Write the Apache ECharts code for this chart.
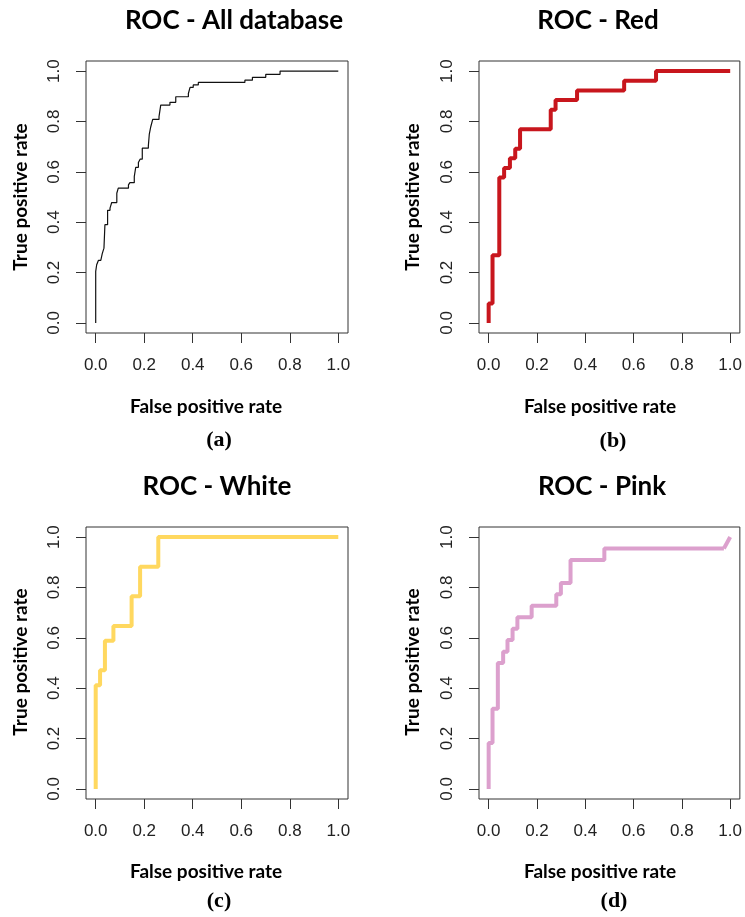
<!DOCTYPE html>
<html>
<head>
<meta charset="utf-8">
<script src="https://cdn.jsdelivr.net/npm/echarts@6/dist/echarts.min.js"></script>
<style>
  html, body { margin: 0; padding: 0; background: #fff; }
  #chart { width: 745px; height: 917px; }
</style>
</head>
<body>
<div id="chart"></div>
<script>
// values
const tickValues = [0, 0.2, 0.4, 0.6, 0.8, 1.0];
const panelTitles = ['ROC - All database', 'ROC - Red', 'ROC - White', 'ROC - Pink'];
const panelLetters = ['(a)', '(b)', '(c)', '(d)'];
const xName = 'False positive rate';
const yName = 'True positive rate';

const allFpr = [0, 0, 0.004, 0.011, 0.021, 0.027, 0.034, 0.038, 0.049, 0.059, 0.066, 0.087, 0.093, 0.135, 0.141, 0.159, 0.165, 0.176, 0.183, 0.192, 0.217, 0.221, 0.227, 0.235, 0.261, 0.268, 0.306, 0.330, 0.382, 0.389, 0.402, 0.423, 0.615, 0.646, 0.701, 0.760, 1.0];
const allTpr = [0, 0.205, 0.231, 0.248, 0.254, 0.275, 0.297, 0.390, 0.447, 0.456, 0.478, 0.515, 0.535, 0.548, 0.557, 0.581, 0.618, 0.637, 0.650, 0.694, 0.703, 0.750, 0.779, 0.808, 0.819, 0.865, 0.876, 0.898, 0.911, 0.935, 0.945, 0.955, 0.964, 0.975, 0.987, 1.0, 1.0];

const redFpr = [0, 0, 0.016, 0.044, 0.064, 0.088, 0.110, 0.130, 0.257, 0.277, 0.366, 0.561, 0.693, 1.0];
const redTpr = [0, 0.077, 0.269, 0.577, 0.615, 0.654, 0.692, 0.769, 0.846, 0.885, 0.923, 0.962, 1.0, 1.0];

const whiteFpr = [0, 0, 0.018, 0.038, 0.073, 0.148, 0.183, 0.258, 1.0];
const whiteTpr = [0, 0.412, 0.471, 0.588, 0.647, 0.765, 0.882, 1.0, 1.0];

const pinkFpr = [0, 0, 0.016, 0.038, 0.060, 0.078, 0.099, 0.119, 0.178, 0.280, 0.299, 0.339, 0.479, 0.974, 1.0];
const pinkTpr = [0, 0.182, 0.318, 0.5, 0.545, 0.591, 0.636, 0.682, 0.727, 0.773, 0.818, 0.909, 0.955, 0.955, 1.0];

// layout
const grids = [
  { left: 86, top: 61, width: 262, height: 272 },
  { left: 479, top: 61, width: 263, height: 272 },
  { left: 86, top: 527, width: 262, height: 272 },
  { left: 479, top: 527, width: 263, height: 272 }
];
const titlePos = [[234, 21], [598, 21], [217, 487], [602, 487]];
const xNamePos = [[206, 407], [600, 407], [206, 872], [600, 872]];
const yNamePos = [[21, 197], [413, 197], [21, 662], [413, 662]];
const letterPos = [[219, 440], [613, 441], [219, 901], [614, 901]];

const tickFont = { fontFamily: 'Liberation Sans', fontSize: 17, color: '#222' };

function xAxisFor(i) {
  return {
    type: 'value', gridIndex: i, min: -0.04, max: 1.04,
    axisLine: { show: false, onZero: false },
    splitLine: { show: false },
    axisTick: { show: true, customValues: tickValues, length: 10, lineStyle: { color: '#333' } },
    axisLabel: Object.assign({ customValues: tickValues, margin: 24, formatter: v => v.toFixed(1) }, tickFont)
  }
}

function yAxisFor(i) {
  return {
    type: 'value', gridIndex: i, min: -0.04, max: 1.04,
    axisLine: { show: false, onZero: false },
    splitLine: { show: false },
    axisTick: { show: true, customValues: tickValues, length: 10, lineStyle: { color: '#333' } },
    axisLabel: Object.assign({ customValues: tickValues, margin: 23, rotate: 90, formatter: v => v.toFixed(1) }, tickFont)
  }
}

function curve(i, fpr, tpr, color, width, step) {
  return {
    type: 'line', xAxisIndex: i, yAxisIndex: i,
    data: fpr.map((v, k) => [v, tpr[k]]),
    step: step ? 'end' : false,
    symbol: 'none', silent: true,
    lineStyle: { color: color, width: width }
  }
}

function label(text, pos, font, rotation) {
  return {
    type: 'text', x: pos[0], y: pos[1], rotation: rotation || 0, silent: true,
    style: { text: text, font: font, fill: '#000', textAlign: 'center', textVerticalAlign: 'middle' }
  }
}

const graphics = [];
for (let p = 0; p < 4; p++) {
  graphics.push(label(panelTitles[p], titlePos[p], 'bold 26px Lato'));
  graphics.push(label(xName, xNamePos[p], 'bold 19px Lato'));
  graphics.push(label(yName, yNamePos[p], 'bold 19px Lato', Math.PI / 2));
  graphics.push(label(panelLetters[p], letterPos[p], 'bold 22px "Liberation Serif"'));
}

const chart = echarts.init(document.getElementById('chart'));
chart.setOption({
  animation: false,
  backgroundColor: '#fff',
  grid: grids.map(g => Object.assign({ show: true, borderColor: '#333', borderWidth: 1, backgroundColor: 'transparent' }, g)),
  xAxis: [0, 1, 2, 3].map(xAxisFor),
  yAxis: [0, 1, 2, 3].map(yAxisFor),
  series: [
    curve(0, allFpr, allTpr, '#111', 1.2, true),
    curve(1, redFpr, redTpr, '#C8161D', 4, true),
    curve(2, whiteFpr, whiteTpr, '#FFD85F', 4, true),
    curve(3, pinkFpr.slice(0, -1), pinkTpr.slice(0, -1), '#DCA0CD', 4, true),
    curve(3, pinkFpr.slice(-2), pinkTpr.slice(-2), '#DCA0CD', 4, false)
  ],
  graphic: graphics
});
</script>
</body>
</html>
